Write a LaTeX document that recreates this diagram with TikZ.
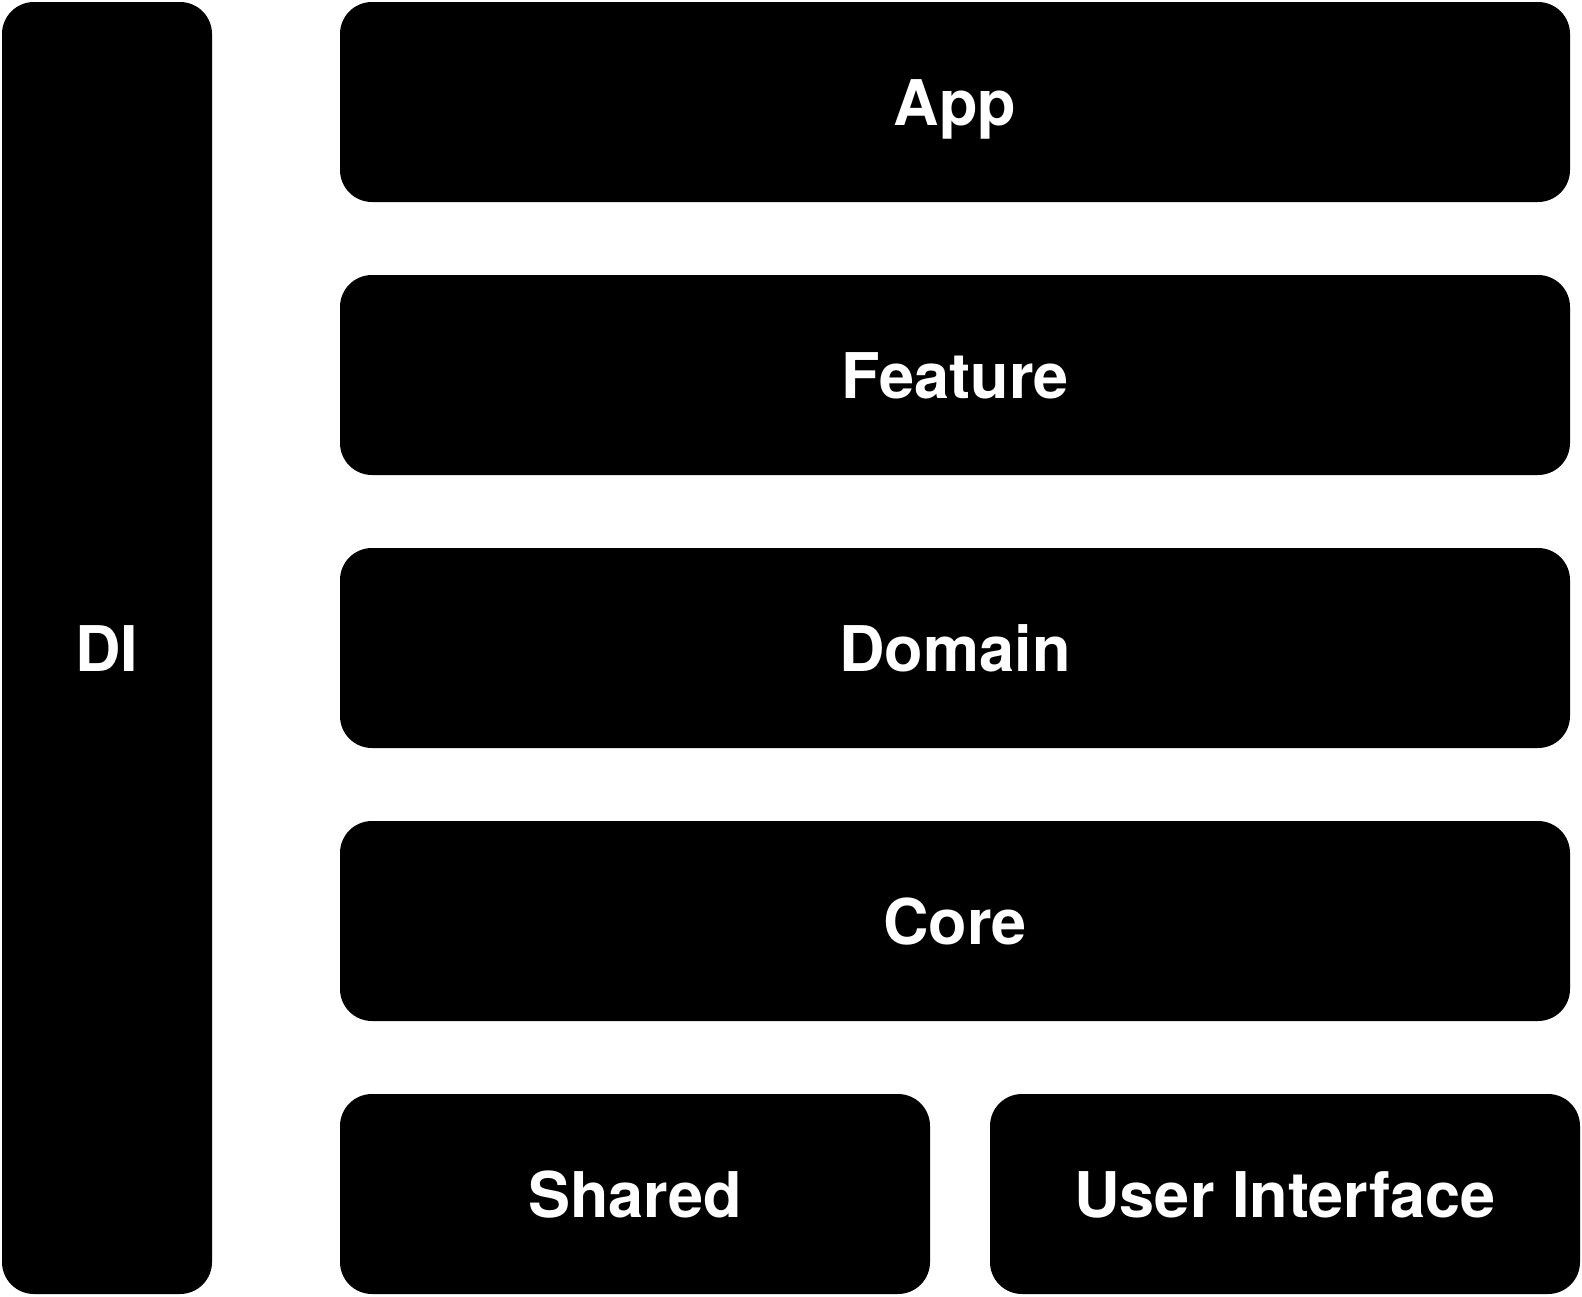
\documentclass[tikz,border=0pt]{standalone}
\usepackage{fontspec}
\setmainfont{TeX Gyre Heros}

\begin{document}
\begin{tikzpicture}[x=1pt,y=-1pt,
	layer/.style={rectangle, fill=black, rounded corners=32pt, inner sep=0pt, text=white,
		font=\fontsize{63}{75}\selectfont\bfseries, text height=46pt, text depth=0pt},
	wide/.style={layer, minimum width=1230pt, minimum height=200pt},
	half/.style={layer, minimum width=590pt, minimum height=200pt}]

	\useasboundingbox (0,0) rectangle (1582,1296);

	\node 	(di)		at	(107,648) 	[layer, minimum width=210pt, minimum height=1292pt]{DI};


	\node 	(app)		at	(955,102) 	[wide]{App};

	\node 	(feature)	at	(955,375) 	[wide]{Feature};

	\node 	(domain)	at	(955,648) 	[wide]{Domain};

	\node 	(core)		at	(955,921) 	[wide]{Core};

%

	\node 	(shared)	at	(635,1194) 	[half]{Shared};

	\node 	(ui)		at	(1285,1194) 	[half]{User Interface};

\end{tikzpicture}
\end{document}
